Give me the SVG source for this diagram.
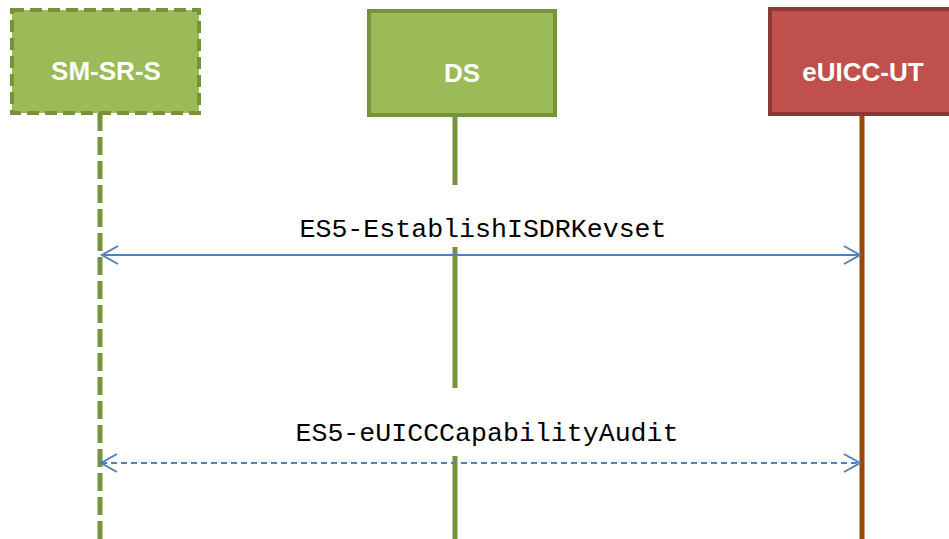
<svg xmlns="http://www.w3.org/2000/svg" width="949" height="539" viewBox="0 0 949 539">
<style>
.box{stroke-width:4}
.green{fill:#9BBB59;stroke:#76923C}
.red{fill:#C0504D;stroke:#8C3836}
.title{font-family:"Liberation Sans",Arial,sans-serif;font-weight:bold;font-size:26px;fill:#fff;text-anchor:middle}
.life{stroke-width:5;fill:none}
.msg{font-family:"Liberation Mono","Courier New",monospace;font-size:26.6px;fill:#000;text-anchor:middle}
.arrow{stroke:#4F81BD;stroke-width:2;fill:none}
</style>
<defs>
<marker id="ah" markerWidth="20" markerHeight="20" refX="17" refY="10" orient="auto-start-reverse" markerUnits="userSpaceOnUse">
<path d="M1,1 L17,10 L1,19" fill="none" stroke="#4F81BD" stroke-width="2"/>
</marker>
</defs>
<g id="lifelines">
<line class="life" x1="100" y1="113" x2="100" y2="539" stroke="#76923C" stroke-dasharray="18,6"/>
<line class="life" x1="455" y1="116" x2="455" y2="185" stroke="#76923C"/>
<line class="life" x1="455" y1="247" x2="455" y2="388" stroke="#76923C"/>
<line class="life" x1="455" y1="456" x2="455" y2="539" stroke="#76923C"/>
<line class="life" x1="862" y1="115" x2="862" y2="539" stroke="#984807"/>
</g>
<g id="SM-SR-S">
<rect class="box green" x="12" y="10" width="187" height="103" stroke-dasharray="12,6"/>
<text class="title" x="106" y="80">SM-SR-S</text>
</g>
<g id="DS">
<rect class="box green" x="369" y="11" width="186" height="104"/>
<text class="title" x="462" y="82">DS</text>
</g>
<g id="eUICC-UT">
<rect class="box red" x="770" y="9" width="185" height="105"/>
<text class="title" x="863" y="81">eUICC-UT</text>
</g>
<g id="connectors">
<line class="arrow" x1="102" y1="255" x2="860" y2="255" marker-start="url(#ah)" marker-end="url(#ah)"/>
<text class="msg" x="483" y="237">ES5-EstablishISDRKevset</text>
<line class="arrow" x1="101" y1="463" x2="860" y2="463" stroke-dasharray="6,4" marker-start="url(#ah)" marker-end="url(#ah)"/>
<text class="msg" x="487" y="441">ES5-eUICCCapabilityAudit</text>
</g>
</svg>
